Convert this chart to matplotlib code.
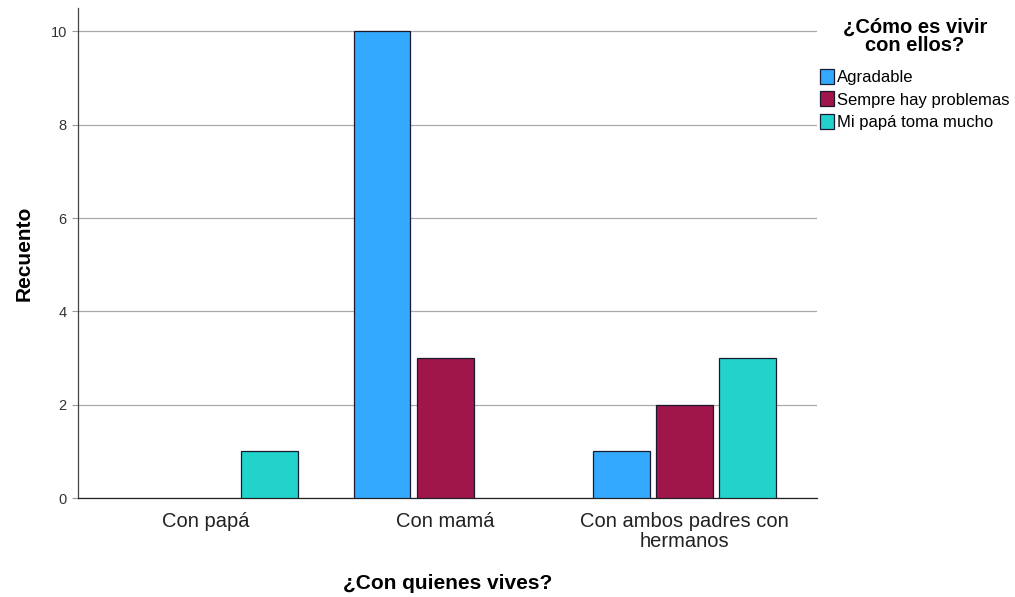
import matplotlib.pyplot as plt
import numpy as np

plt.rcParams['font.family'] = ['Liberation Sans', 'DejaVu Sans']

categorias = ['Con papá', 'Con mamá', 'Con ambos padres con\nhermanos']
series = ['Agradable', 'Sempre hay problemas', 'Mi papá toma mucho']
valores = {
    'Agradable': [0, 10, 1],
    'Sempre hay problemas': [0, 3, 2],
    'Mi papá toma mucho': [1, 0, 3],
}
colores = ['#33aaff', '#a0154a', '#22d3cc']

fig = plt.figure(figsize=(10.15, 5.97), dpi=100)
ax = fig.add_axes([0.0768, 0.1658, 0.7282, 0.8208])

ind = np.arange(len(categorias))
paso = 0.264
ancho = 0.238
for k, nombre in enumerate(series):
    vals = np.array(valores[nombre])
    pos = ind + (k - 1) * paso
    mask = vals > 0
    ax.bar(pos[mask], vals[mask], ancho, color=colores[k], edgecolor='#1a1a2e',
           linewidth=0.9, label=nombre, zorder=3)

ax.set_xlim(-0.536, 2.556)
ax.set_ylim(0, 10.5)
ax.set_yticks([0, 2, 4, 6, 8, 10])
ax.set_xticks(ind)
ax.set_xticklabels(categorias, fontsize=14.5, color='#222222', linespacing=1.05)
ax.tick_params(axis='x', length=0, pad=10)
ax.tick_params(axis='y', length=4, width=0.8, color='#999999', labelsize=10.5,
               labelcolor='#333333', pad=4)
ax.yaxis.grid(True, color='#aaaaaa', linewidth=0.9, zorder=0)
for s in ['top', 'right']:
    ax.spines[s].set_visible(False)
ax.spines['left'].set_color('#444444')
ax.spines['bottom'].set_color('#222222')
ax.spines['left'].set_linewidth(0.9)
ax.spines['bottom'].set_linewidth(0.9)

ax.set_xlabel('¿Con quienes vives?', fontsize=15, fontweight='bold', labelpad=17)
ax.set_ylabel('Recuento', fontsize=15, fontweight='bold', labelpad=12)

leg = ax.legend(title='¿Cómo es vivir\ncon ellos?', loc='upper left',
                bbox_to_anchor=(0.997, 0.99), frameon=False, fontsize=12,
                title_fontproperties={'weight': 'bold', 'size': 14.5},
                handlelength=0.85, handleheight=1.0, handletextpad=0.2,
                labelspacing=0.37, borderaxespad=0.0, borderpad=0.3)
leg._legend_box.align = 'center'
leg._legend_box.sep = 10
leg.get_title().set_multialignment('center')
leg.get_title().set_linespacing(0.95)

fig.savefig('out.png', dpi=100)
